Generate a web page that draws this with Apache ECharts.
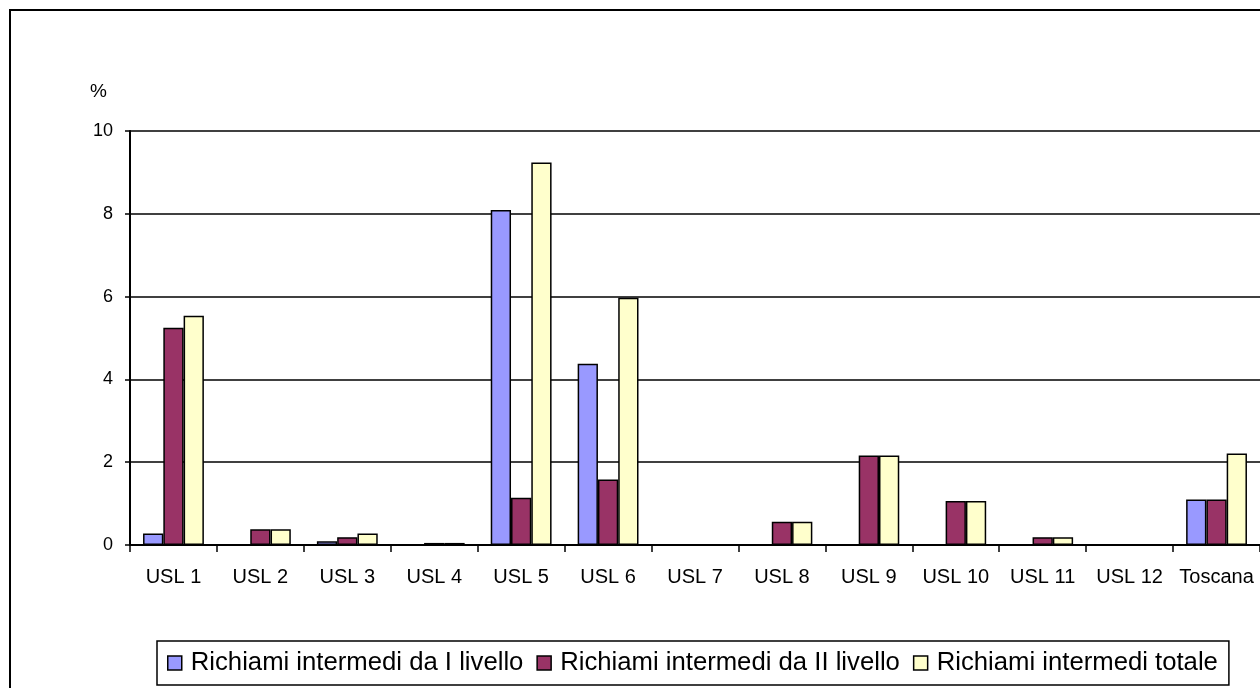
<!DOCTYPE html>
<html>
<head>
<meta charset="utf-8">
<script src="https://cdn.jsdelivr.net/npm/echarts@6/dist/echarts.min.js"></script>
<style>
  html, body { margin: 0; padding: 0; background: #fff; }
  #chart { width: 1260px; height: 688px; }
</style>
</head>
<body>
<div id="chart"></div>
<script>
// dati
var categorie = ['USL 1', 'USL 2', 'USL 3', 'USL 4', 'USL 5', 'USL 6', 'USL 7', 'USL 8', 'USL 9', 'USL 10', 'USL 11', 'USL 12', 'Toscana'];
var primoLivello = [0.28, 0, 0.09, 0, 8.09, 4.38, 0, 0, 0, 0, 0, 0, 1.1];
var secondoLivello = [5.25, 0.38, 0.19, 0.05, 1.14, 1.58, 0, 0.56, 2.16, 1.06, 0.19, 0, 1.1];
var totale = [5.54, 0.38, 0.28, 0.05, 9.24, 5.97, 0, 0.56, 2.16, 1.06, 0.19, 0, 2.21];
var nomiSerie = ['Richiami intermedi da I livello', 'Richiami intermedi da II livello', 'Richiami intermedi totale'];

var font = 'Liberation Sans, Arial, sans-serif';

function serie(nome, dati, colore) {
    return {
        name: nome,
        type: 'bar',
        data: dati,
        barGap: '0%',
        barCategoryGap: '30%',
        itemStyle: { color: colore, borderColor: '#000', borderWidth: 1.5 },
        emphasis: { disabled: true }
    };
}

var option = {
    animation: false,
    backgroundColor: '#fff',
    textStyle: { fontFamily: font },
    graphic: [{
        type: 'rect',
        shape: { x: 10, y: 10, width: 1300, height: 720 },
        style: { fill: 'none', stroke: '#000', lineWidth: 2 },
        silent: true
    }],
    grid: { left: 130, top: 131, right: -4, bottom: 143 },
    legend: {
        left: 157,
        top: 641,
        padding: [9, 11, 9, 10],
        itemGap: 13,
        itemWidth: 14,
        itemHeight: 14,
        icon: 'rect',
        borderColor: '#000',
        borderWidth: 1.5,
        itemStyle: { borderColor: '#000', borderWidth: 1.5 },
        textStyle: { fontSize: 25.7, color: '#000', fontFamily: font, padding: [0, 0, 0, 4] },
        data: nomiSerie
    },
    xAxis: {
        type: 'category',
        data: categorie,
        axisLine: { lineStyle: { color: '#000', width: 2 } },
        axisTick: { show: true, length: 7, lineStyle: { color: '#000', width: 1.5 } },
        axisLabel: { color: '#000', fontSize: 20, margin: 22, interval: 0 }
    },
    yAxis: {
        type: 'value',
        min: 0,
        max: 10,
        interval: 2,
        name: '%',
        nameLocation: 'end',
        nameGap: 30,
        nameTextStyle: { color: '#000', fontSize: 19, align: 'right', padding: [0, 23, 0, 0] },
        axisLine: { show: true, lineStyle: { color: '#000', width: 2 } },
        axisTick: { show: true, length: 5, lineStyle: { color: '#000', width: 1.5 } },
        axisLabel: { color: '#000', fontSize: 18, margin: 17 },
        splitLine: { lineStyle: { color: '#000', width: 1.5 } }
    },
    series: [
        serie(nomiSerie[0], primoLivello, '#9999FF'),
        serie(nomiSerie[1], secondoLivello, '#993366'),
        serie(nomiSerie[2], totale, '#FFFFCC')
    ]
};

var myChart = echarts.init(document.getElementById('chart'));
myChart.setOption(option);
</script>
</body>
</html>
